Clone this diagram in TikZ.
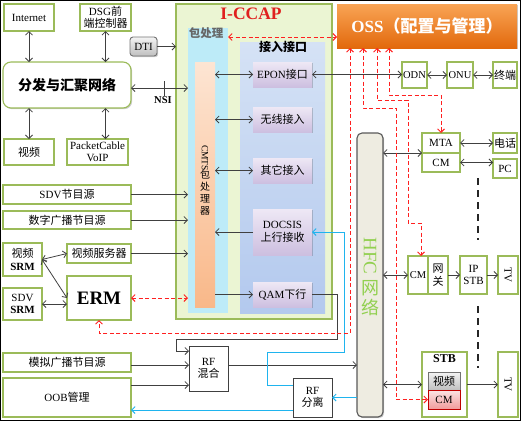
\documentclass[tikz,border=0pt]{standalone}
\usepackage{fontspec}
\setmainfont{Liberation Serif}
\newfontfamily\cjk{Noto Sans CJK SC}
\usetikzlibrary{arrows.meta,shadows}
\newcommand{\zh}[1]{{\cjk #1}}
\definecolor{gb}{HTML}{9BBB59}
\definecolor{iccapfill}{HTML}{EBF5D3}
\definecolor{pktfill}{HTML}{BDEBF8}
\definecolor{acctop}{HTML}{D5E2F5}
\definecolor{accbot}{HTML}{B3C9EE}
\definecolor{cmtstop}{HTML}{FDE5D3}
\definecolor{cmtsbot}{HTML}{F9B889}
\definecolor{purtop}{HTML}{EEE8F5}
\definecolor{purbot}{HTML}{CDBFE0}
\definecolor{osstop}{HTML}{F9A455}
\definecolor{ossbot}{HTML}{E2690C}
\definecolor{hfcfill}{HTML}{EEECE1}
\definecolor{hfcgreen}{HTML}{92D050}
\definecolor{ln}{HTML}{404040}
\definecolor{bl}{HTML}{1FB4EE}
\definecolor{rd}{HTML}{FF2020}
\definecolor{icred}{HTML}{E0201E}
\definecolor{graytop}{HTML}{F4F4F4}
\definecolor{graybot}{HTML}{BFBFBF}
\definecolor{pinktop}{HTML}{FBE3E3}
\definecolor{pinkbot}{HTML}{F19C9C}
\begin{document}
\begin{tikzpicture}[x=1pt,y=-1pt,
 >={Straight Barb[length=3.5pt,width=7pt]},
 every node/.style={inner sep=0pt,outer sep=0pt,align=center,font=\fontsize{11}{12.5}\selectfont},
 shad/.style={drop shadow={shadow xshift=1.2pt,shadow yshift=-1.2pt,opacity=0.2,fill=black}},
 gbox/.style={draw=gb,line width=1.1pt,fill=white,shad},
 kbox/.style={draw=ln,line width=0.9pt,fill=white,shad},
 pbox/.style={top color=purtop,bottom color=purbot,minimum width=59pt,shad},
 conn/.style={draw=ln,line width=0.8pt},
 rdash/.style={draw=rd,line width=0.9pt,dash pattern=on 4pt off 2.5pt},
 bline/.style={draw=bl,line width=0.9pt},
 bigdash/.style={draw=black!85,line width=1.8pt,dash pattern=on 7pt off 5pt},
]
\useasboundingbox (0,0) rectangle (521,421);
\draw[line width=1pt] (0.5,0.5) rectangle (520.5,420.5);

% ---------- I-CCAP ----------
\node[draw=gb,fill=iccapfill,line width=1.1pt,minimum width=156pt,minimum height=315pt,shad] (iccap) at (254,161.5) {};
\node[text=icred,font=\bfseries\fontsize{17.5}{19}\selectfont] (iccapt) at (251,13.5) {I-CCAP};
\node[fill=pktfill,minimum width=40pt,minimum height=285pt] (pkt) at (208,170.5) {};
\node[text=black!60,font=\cjk\bfseries\fontsize{11.5}{13}\selectfont] (pktl) at (206,33.5) {包处理};
\node[top color=cmtstop,bottom color=cmtsbot,minimum width=20pt,minimum height=245pt] (cmts) at (205,184.5) {};
\node[rotate=-90,font=\fontsize{9.5}{10}\selectfont] (cmtst) at (205,158) {CMTS};
\node[font=\cjk\fontsize{10}{12}\selectfont] (cmtsz) at (205,193) {包\\处\\理\\器};
\node[top color=acctop,bottom color=accbot,minimum width=85pt,minimum height=271pt] (acc) at (282.5,177.5) {};
\node[font=\cjk\bfseries\fontsize{12}{13}\selectfont] (accl) at (283,47) {接入接口};
\node[pbox,minimum height=25pt] (epon) at (282.5,74.5) {EPON\zh{接口}};
\node[pbox,minimum height=25pt] (wl) at (282.5,119.5) {\zh{无线接入}};
\node[pbox,minimum height=25pt] (oth) at (282.5,170.5) {\zh{其它接入}};
\node[pbox,minimum height=46pt] (docsis) at (282.5,232) {DOCSIS\\\zh{上行接收}};
\node[pbox,minimum height=25pt] (qam) at (282.5,294.5) {QAM\zh{下行}};

% ---------- left column ----------
\node[gbox,minimum width=50pt,minimum height=27pt] (inet) at (29,17.5) {Internet};
\node[gbox,minimum width=51pt,minimum height=27pt] (dsg) at (105.5,17.5) {DSG\zh{前}\\\zh{端控制器}};
\node[draw=black!55,line width=0.9pt,rounded corners=3pt,top color=graytop,bottom color=graybot,minimum width=27pt,minimum height=19pt,shad] (dti) at (143.5,46.5) {DTI};
\node[gbox,rounded corners=8pt,minimum width=128pt,minimum height=46pt,font=\cjk\bfseries\fontsize{14}{16}\selectfont] (dist) at (67,85) {分发与汇聚网络};
\node[gbox,minimum width=50pt,minimum height=26pt] (vid) at (29,152) {\zh{视频}};
\node[gbox,minimum width=61pt,minimum height=26pt] (pcab) at (97.5,152) {PacketCable\\VoIP};
\node[gbox,minimum width=128pt,minimum height=19pt] (sdv) at (67,194.5) {SDV\zh{节目源}};
\node[gbox,minimum width=128pt,minimum height=18pt] (dig) at (67,220) {\zh{数字广播节目源}};
\node[gbox,minimum width=39pt,minimum height=33pt] (vsrm) at (22.5,259.5) {\zh{视频}\\\textbf{SRM}};
\node[gbox,minimum width=64pt,minimum height=19pt] (vsrv) at (99,253.5) {\zh{视频服务器}};
\node[gbox,minimum width=39pt,minimum height=32pt] (ssrm) at (22.5,304) {SDV\\\textbf{SRM}};
\node[gbox,minimum width=64pt,minimum height=44pt,font=\bfseries\fontsize{19}{20}\selectfont] (erm) at (99,298) {ERM};
\node[gbox,minimum width=128pt,minimum height=19pt] (ana) at (67,362.5) {\zh{模拟广播节目源}};
\node[gbox,minimum width=128pt,minimum height=39pt] (oob) at (67,397.5) {OOB\zh{管理}};

% ---------- bottom middle ----------
\node[kbox,minimum width=39pt,minimum height=45pt] (rfmix) at (208.5,368.5) {RF\\\zh{混合}};
\node[kbox,minimum width=39pt,minimum height=39pt] (rfsp) at (312.5,397.5) {RF\\\zh{分离}};

% ---------- right side ----------
\node[top color=osstop,bottom color=ossbot,minimum width=180pt,minimum height=44pt,text=white,font=\bfseries\fontsize{17}{18}\selectfont,shad] (oss) at (427,26) {OSS{\cjk\bfseries （配置与管理）}};
\node[gbox,minimum width=25pt,minimum height=26pt,font=\fontsize{10.5}{12}\selectfont] (odn) at (414.5,75) {ODN};
\node[gbox,minimum width=26pt,minimum height=26pt,font=\fontsize{10.5}{12}\selectfont] (onu) at (460,75) {ONU};
\node[gbox,minimum width=24pt,minimum height=26pt] (term) at (505,75) {\zh{终端}};
\node[draw=black!65,fill=hfcfill,rounded corners=5pt,line width=1.1pt,minimum width=26pt,minimum height=284pt,shad] (hfc) at (370,275) {};
\node[rotate=-90,text=hfcgreen,font=\fontsize{19}{20}\selectfont] (hfct1) at (370,256) {HFC};
\node[text=hfcgreen,font=\cjk\fontsize{18}{20}\selectfont] (hfct2) at (370,298) {网\\络};
\node[gbox,minimum width=38pt,minimum height=20pt] (mta) at (441,143) {MTA};
\node[gbox,minimum width=38pt,minimum height=19pt] (cm1) at (441,162.5) {CM};
\node[gbox,minimum width=24pt,minimum height=20pt] (phone) at (505,143) {\zh{电话}};
\node[gbox,minimum width=24pt,minimum height=19pt] (pc) at (505,168.5) {PC};
\node[gbox,minimum width=20pt,minimum height=38pt,font=\fontsize{10.5}{12}\selectfont] (ipcm) at (418,275) {CM};
\node[gbox,minimum width=20pt,minimum height=38pt] (gw) at (438,275) {\zh{网}\\\zh{关}};
\node[gbox,minimum width=27pt,minimum height=38pt] (ipstb) at (473.5,275) {IP\\STB};
\node[gbox,minimum width=20pt,minimum height=38pt] (tv1) at (508,275) {\rotatebox{-90}{TV}};
\node[gbox,minimum width=45pt,minimum height=65pt] (stb) at (444.5,384.5) {};
\node[font=\bfseries\fontsize{12}{13}\selectfont] (stbl) at (444.5,359) {STB};
\node[draw=black!55,line width=0.8pt,top color=graytop,bottom color=graybot,minimum width=32pt,minimum height=18pt] (stbv) at (444,381) {\zh{视频}};
\node[draw=red!75!black,line width=0.8pt,top color=pinktop,bottom color=pinkbot,minimum width=32pt,minimum height=19pt] (stbcm) at (444,399.5) {CM};
\node[gbox,minimum width=20pt,minimum height=65pt] (tv2) at (508,384.5) {\rotatebox{-90}{TV}};

% ---------- helper coordinates ----------
\coordinate (y37) at (0,37);
\coordinate (y88) at (0,88);
\coordinate (y365) at (0,365);
\coordinate (y385) at (0,385);
\coordinate (y410) at (0,410);
\coordinate (nsitop) at (164,81);
\coordinate (nsibot) at (164,96);
\coordinate (q1) at (337,339);
\coordinate (q2) at (176,351);
\coordinate (b1) at (267,385);
\coordinate (b2) at (344,352);
\coordinate (r350) at (350,333);
\coordinate (r363) at (363,108);
\coordinate (r396) at (396,108);
\coordinate (r377) at (377,100);
\coordinate (r408) at (408,100);
\coordinate (r408b) at (408,223);
\coordinate (r421) at (421,223);
\coordinate (r389) at (389,95);
\coordinate (d1a) at (478,178);
\coordinate (d1b) at (478,240);
\coordinate (d2a) at (478,306);
\coordinate (d2b) at (478,368);

% ---------- connectors left ----------
\draw[conn,<->] (inet.south) -- (inet.south |- dist.north);
\draw[conn,<->] (dsg.south) -- (dsg.south |- dist.north);
\draw[conn,<->] (dist.south -| vid.north) -- (vid.north);
\draw[conn,<->] (dist.south -| dsg.south) -- (dsg.south |- pcab.north);
\draw[conn,->] (dti.east) -- (dti.east -| iccap.west);
\draw[conn,<->] (dist.east |- y88) -- (pkt.west |- y88);
\draw[conn] (nsitop) -- (nsibot);
\node[font=\bfseries\fontsize{10.5}{12}\selectfont] (nsi) at (163,100.5) {NSI};
\draw[conn,->] (sdv.east) -- (sdv.east -| pkt.west);
\draw[conn,->] (dig.east) -- (dig.east -| pkt.west);
\draw[conn,->] (vsrv.east) -- (vsrv.east -| pkt.west);
\draw[conn,<->] (vsrm.east) -- (vsrv.west);
\draw[conn,<->] (vsrm.east) -- (erm.west);
\draw[conn,<->] (ssrm.east) -- (ssrm.east -| erm.west);
\draw[rdash,<->] (erm.east) -- (erm.east -| pkt.west);

% ---------- inside I-CCAP ----------
\draw[conn,<->] (cmts.east |- epon.west) -- (epon.west);
\draw[conn,<->] (cmts.east |- wl.west) -- (wl.west);
\draw[conn,<->] (cmts.east |- oth.west) -- (oth.west);
\draw[conn,->] (docsis.west) -- (docsis.west -| cmts.east);
\draw[conn,->] (cmts.east |- qam.west) -- (qam.west);
\draw[rdash,<->] (pkt.east |- y37) -- (oss.west |- y37);

% ---------- EPON chain ----------
\draw[conn,<->] (epon.east) -- (epon.east -| odn.west);
\draw[conn,<->] (odn.east) -- (onu.west);
\draw[conn,<->] (onu.east) -- (term.west);

% ---------- RF ----------
\draw[conn,->] (qam.east) -| (q1) -| (q2) -- (q2 -| rfmix.west);
\draw[conn,->] (ana.east |- y365) -- (rfmix.west |- y365);
\draw[conn,->] (oob.east |- y385) -- (rfmix.west |- y385);
\draw[conn,->] (rfmix.east |- y365) -- (hfc.west |- y365);
\draw[bline,->] (hfc.west |- rfsp.east) -- (rfsp.east);
\draw[bline,->] (rfsp.west |- y410) -- (oob.east |- y410);
\draw[bline,->] (rfsp.west |- b1) -- (b1) |- (b2) |- (docsis.east);

% ---------- HFC side ----------
\draw[conn,<->] (hfc.east |- mta.south) -- (mta.south west);
\draw[conn,<->] (mta.east) -- (phone.west);
\draw[conn,<->] (cm1.east) -- (cm1.east -| pc.west);
\draw[conn,<->] (hfc.east |- ipcm.west) -- (ipcm.west);
\draw[conn,->] (gw.east) -- (ipstb.west);
\draw[conn,->] (ipstb.east) -- (tv1.west);
\draw[conn,<->] (hfc.east |- stb.west) -- (stb.west);
\draw[conn,->] (stb.east) -- (tv2.west);

% ---------- OSS management links ----------
\draw[rdash,<->] (oss.south -| r350) -- (r350) -| (erm.south);
\draw[rdash,<->] (oss.south -| r363) -- (r363) -- (r396) |- (stbcm.west);
\draw[rdash,<->] (oss.south -| r377) -- (r377) -- (r408) -- (r408b) -- (r421) -- (r421 |- ipcm.north);
\draw[rdash,<->] (oss.south -| r389) -- (r389) -| (mta.north);

% ---------- dashed continuation marks ----------
\draw[bigdash] (d1a) -- (d1b);
\draw[bigdash] (d2a) -- (d2b);
\end{tikzpicture}
\end{document}
